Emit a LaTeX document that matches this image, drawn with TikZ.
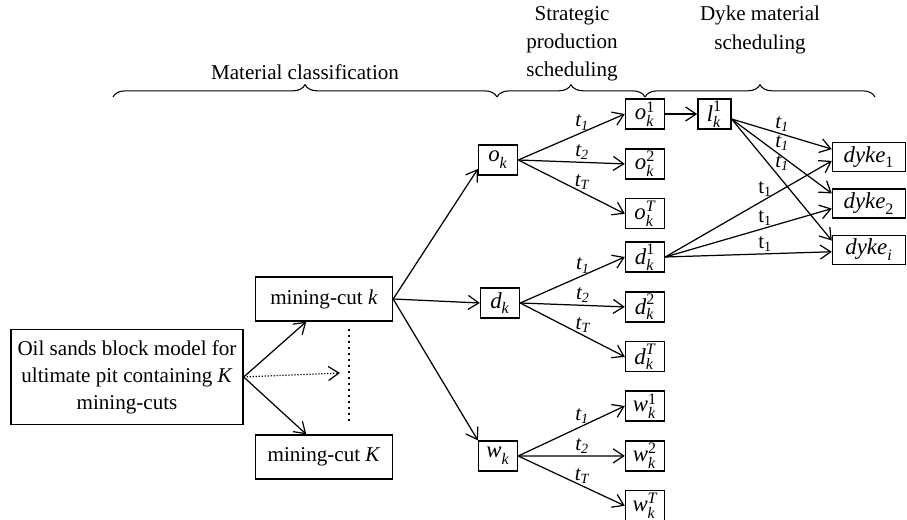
\documentclass[tikz,border=0pt]{standalone}
\usepackage{amsmath}
\usepackage{fontspec}
\setmainfont{Liberation Serif}
\usetikzlibrary{arrows.meta, positioning, calc, decorations.pathreplacing}
\tikzset{
  block/.style={rectangle, draw, line width=0.8pt, align=center,
                inner sep=2pt, font=\fontsize{12}{15.3}\selectfont},
  var/.style={block, inner sep=0pt, minimum width=0.78cm, minimum height=0.6cm,
              font=\fontsize{13}{15}\selectfont},
  dykebox/.style={block, minimum width=1.46cm, minimum height=0.58cm,
                  font=\fontsize{13}{15}\selectfont},
  arrow/.style={-{Straight Barb[length=6pt,width=8pt]}, line width=0.7pt},
  tlab/.style={above, pos=0.6, inner sep=1pt, font=\fontsize{12}{14}\selectfont},
  bracket/.style={decorate, decoration={brace, amplitude=7pt}, line width=0.6pt},
  head/.style={align=center, font=\fontsize{12}{16}\selectfont},
}
\newcommand{\mvar}[3]{\ensuremath{\textit{#1}^{#2}_{\textit{#3}}}}
\newcommand{\tit}[1]{\ensuremath{\textit{t}_{\textit{#1}}}}

\begin{document}
\begin{tikzpicture}[x=0.02cm, y=-0.02cm, node distance=0.37cm]
        \useasboundingbox (0,0) rectangle (907,520);
        % headings and braces
        \node[head] (hmat) at (305,72) {Material classification};
        \node[head] (hsps) at (572,44) {Strategic\\production\\scheduling};
        \node[head] (hdyke) at (760,30) {Dyke material\\scheduling};
        \draw[bracket] (113,97) -- (497,97);
        \draw[bracket] (497,97) -- (645,97);
        \draw[bracket] (645,97) -- (875,97);
        % block model and mining-cuts
        \node[block, minimum width=4.64cm, minimum height=1.9cm] (src) at (127,377)
          {Oil sands block model for\\ultimate pit containing \textit{K}\\mining-cuts};
        \node[block, minimum width=2.74cm, minimum height=0.88cm] (cutk) at (324,299) {mining-cut \textit{k}};
        \node[block, minimum width=2.74cm, minimum height=0.88cm] (cutK) at (324,457) {mining-cut \textit{K}};
        \coordinate (dotend) at (340,373);
        \coordinate (vtop) at (349,329);
        \coordinate (vbot) at (349,423);
        \draw[arrow] (src.east) -- (cutk.232);
        \draw[arrow] (src.east) -- (cutK.128);
        \draw[arrow, densely dotted] (src.east) -- (dotend);
        \draw[dotted, line width=1.4pt] (vtop) -- (vbot);
        % material types
        \node[var] (ok) at (498,160) {\mvar{o}{}{k}};
        \node[var] (dk) at (500,303) {\mvar{d}{}{k}};
        \node[var] (wk) at (498,456) {\mvar{w}{}{k}};
        \draw[arrow] (cutk.east) -- (ok.204);
        \draw[arrow] (cutk.east) -- (dk.west);
        \draw[arrow] (cutk.east) -- (wk.north west);
        % periods
        \foreach \m/\y in {o/114, d/257, w/406} {
          \node[var] (\m1) at (645,\y) {\mvar{\m}{\textup{1}}{k}};
          \node[var, below=of \m1] (\m2) {\mvar{\m}{\textup{2}}{k}};
          \node[var, below=of \m2] (\m T) {\mvar{\m}{\textit{T}}{k}};
          \draw[arrow] (\m k.east) -- (\m1.west) node[tlab] {\tit{1}};
          \draw[arrow] (\m k.east) -- (\m2.west) node[tlab] {\tit{2}};
          \draw[arrow] (\m k.east) -- (\m T.west) node[tlab] {\tit{T}};
        }
        % dyke material
        \node[var, minimum width=0.66cm, right=0.64cm of o1] (lk) {\mvar{l}{\textup{1}}{k}};
        \draw[arrow] (o1.east) -- (lk.west);
        \node[dykebox] (dy1) at (869,157) {\ensuremath{\textit{dyke}_{\textup{1}}}};
        \node[dykebox, below=0.32cm of dy1] (dy2) {\ensuremath{\textit{dyke}_{\textup{2}}}};
        \node[dykebox, below=0.32cm of dy2] (dyi) {\ensuremath{\textit{dyke}_{\textit{i}}}};
        \coordinate (lout) at ($(lk.east)+(0,5)$);
        \foreach \d/\a in {dy1/168, dy2/165, dyi/166}
          \draw[arrow] (lout) -- (\d.\a) node[tlab, pos=0.43, anchor=south west, inner sep=0pt] {\tit{1}};
        \foreach \d/\a in {dy1/186, dy2/188, dyi/183}
          \draw[arrow] (d1.east) -- (\d.\a) node[tlab] {t\textsubscript{1}};
      \end{tikzpicture}
\end{document}
